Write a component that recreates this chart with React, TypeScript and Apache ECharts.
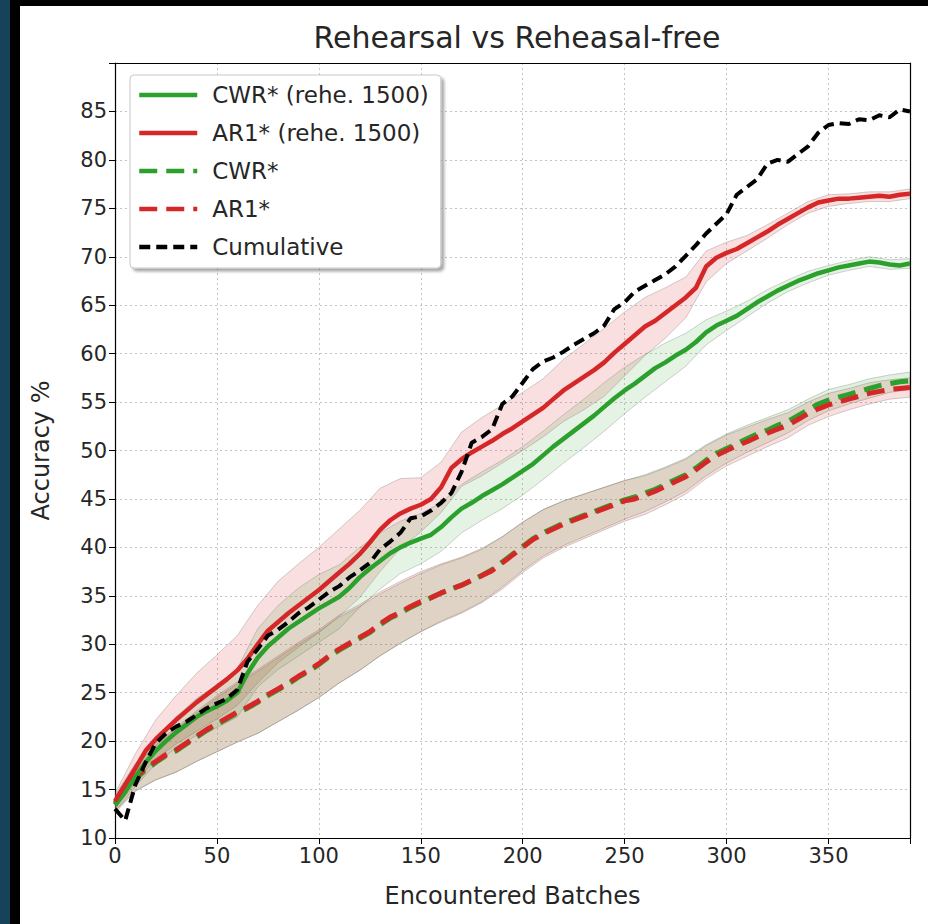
import React, { useEffect, useRef } from "react";
import * as echarts from "echarts";

// x positions (encountered batches) for the mean curves
const batches = [
  0, 5, 10, 15, 20, 25, 30, 35, 40, 45, 50, 55, 60, 65, 70, 75, 80, 85, 90, 95,
  100, 105, 110, 115, 120, 125, 130, 135, 140, 145, 150, 155, 160, 165, 170, 175, 180, 185, 190, 195,
  200, 205, 210, 215, 220, 225, 230, 235, 240, 245, 250, 255, 260, 265, 270, 275, 280, 285, 290, 295,
  300, 305, 310, 315, 320, 325, 330, 335, 340, 345, 350, 355, 360, 365, 370, 375, 380, 385, 390,
];

// x positions for the std bands
const bandBatches = [
  0, 10, 20, 30, 40, 50, 60, 70, 80, 90, 100, 110, 120, 130, 140, 150, 160, 170, 180, 190,
  200, 210, 220, 230, 240, 250, 260, 270, 280, 290, 300, 310, 320, 330, 340, 350, 360, 370, 380, 390,
];

const cwrRehe = [
  13.5, 14.8, 16.3, 17.8, 19.0, 20.0, 20.9, 21.7, 22.5, 23.1, 23.6, 24.2, 25.0, 27.0, 28.6, 29.8, 30.7, 31.6, 32.3, 33.0,
  33.7, 34.3, 34.9, 35.8, 36.9, 37.8, 38.6, 39.4, 40.0, 40.5, 40.9, 41.3, 42.1, 43.1, 44.0, 44.6, 45.3, 45.9, 46.5, 47.2,
  47.9, 48.6, 49.5, 50.4, 51.2, 52.0, 52.8, 53.6, 54.5, 55.4, 56.2, 56.9, 57.7, 58.5, 59.1, 59.8, 60.4, 61.2, 62.2, 62.9,
  63.4, 63.9, 64.6, 65.3, 65.9, 66.5, 67.0, 67.5, 67.9, 68.3, 68.6, 68.9, 69.1, 69.3, 69.5, 69.4, 69.2, 69.1, 69.3,
];

const ar1Rehe = [
  13.8, 15.5, 17.2, 19.0, 20.2, 21.2, 22.2, 23.1, 24.0, 24.8, 25.6, 26.4, 27.3, 28.5, 30.0, 31.4, 32.3, 33.2, 34.0, 34.8,
  35.6, 36.5, 37.4, 38.3, 39.3, 40.5, 41.8, 42.8, 43.5, 44.0, 44.4, 45.0, 46.2, 48.2, 49.1, 49.8, 50.4, 51.0, 51.7, 52.3,
  53.0, 53.7, 54.4, 55.3, 56.2, 56.9, 57.6, 58.3, 59.1, 60.1, 61.0, 61.9, 62.8, 63.4, 64.2, 65.0, 65.8, 66.8, 69.0, 69.9,
  70.4, 70.8, 71.4, 72.0, 72.6, 73.3, 73.9, 74.5, 75.1, 75.6, 75.8, 76.0, 76.0, 76.1, 76.2, 76.3, 76.2, 76.4, 76.5,
];

const cwr = [
  13.4, 14.8, 16.1, 17.0, 17.8, 18.5, 19.0, 19.7, 20.4, 21.1, 21.7, 22.3, 22.9, 23.4, 24.0, 24.7, 25.3, 25.9, 26.6, 27.2,
  27.9, 28.7, 29.4, 30.0, 30.6, 31.2, 32.0, 32.7, 33.2, 33.8, 34.3, 34.8, 35.3, 35.7, 36.1, 36.6, 37.1, 37.7, 38.5, 39.3,
  40.1, 40.9, 41.5, 42.0, 42.5, 42.9, 43.3, 43.7, 44.1, 44.5, 44.9, 45.2, 45.6, 46.0, 46.5, 47.0, 47.5, 48.2, 49.0, 49.7,
  50.2, 50.7, 51.2, 51.7, 52.1, 52.6, 53.0, 53.6, 54.2, 54.8, 55.2, 55.5, 55.8, 56.1, 56.4, 56.7, 56.9, 57.1, 57.2,
];

const ar1 = [
  13.6, 15.0, 16.3, 17.2, 17.9, 18.6, 19.1, 19.8, 20.5, 21.2, 21.8, 22.4, 23.0, 23.5, 24.1, 24.8, 25.4, 26.0, 26.7, 27.3,
  28.0, 28.8, 29.5, 30.1, 30.7, 31.3, 32.1, 32.8, 33.3, 33.9, 34.4, 34.8, 35.3, 35.7, 36.1, 36.6, 37.1, 37.6, 38.4, 39.2,
  40.0, 40.8, 41.4, 41.9, 42.4, 42.8, 43.2, 43.6, 44.0, 44.4, 44.8, 45.0, 45.4, 45.8, 46.3, 46.8, 47.3, 48.0, 48.8, 49.5,
  50.0, 50.5, 50.9, 51.4, 51.8, 52.2, 52.6, 53.2, 53.8, 54.3, 54.7, 55.0, 55.3, 55.6, 55.9, 56.1, 56.3, 56.4, 56.5,
];

const cumulative = [
  13.0, 11.8, 15.5, 17.8, 19.8, 20.8, 21.5, 22.0, 22.7, 23.4, 23.9, 24.4, 25.3, 28.2, 29.5, 30.9, 31.5, 32.3, 33.2, 33.8,
  34.6, 35.4, 36.0, 36.9, 37.6, 38.4, 39.8, 40.6, 41.5, 43.0, 43.2, 43.8, 44.6, 45.6, 47.8, 50.8, 51.4, 52.2, 54.8, 55.6,
  57.0, 58.4, 59.2, 59.6, 60.2, 60.9, 61.5, 62.1, 62.9, 64.6, 65.3, 66.4, 67.0, 67.6, 68.2, 69.0, 70.1, 71.2, 72.4, 73.4,
  74.4, 76.4, 77.2, 78.0, 79.6, 80.0, 79.8, 80.6, 81.4, 82.8, 83.6, 83.8, 83.7, 84.2, 84.1, 84.6, 84.4, 85.2, 85.0,
];

// half-width of the shaded bands, at bandBatches
const sdAr1Rehe = [
  0.8, 1.5, 2.0, 2.5, 3.0, 3.3, 3.6, 4.0, 4.2, 4.3, 4.4, 4.5, 4.5, 4.3, 3.6, 2.8, 2.6, 2.8, 3.0, 3.0,
  3.0, 3.0, 3.2, 3.4, 3.5, 3.3, 3.0, 2.6, 2.1, 1.6, 1.1, 0.8, 0.7, 0.6, 0.6, 0.6, 0.5, 0.5, 0.5, 0.5,
];
const sdCwrRehe = [
  0.8, 1.0, 1.3, 1.6, 1.9, 2.2, 2.5, 3.0, 3.3, 3.5, 3.5, 3.3, 3.1, 2.9, 2.7, 2.6, 2.5, 2.5, 2.5, 2.5,
  2.5, 2.5, 2.5, 2.5, 2.5, 2.4, 2.2, 2.0, 1.7, 1.3, 1.0, 0.8, 0.7, 0.6, 0.6, 0.5, 0.5, 0.5, 0.5, 0.5,
];
const sdAr1 = [
  0.8, 1.4, 1.9, 2.3, 2.6, 2.9, 3.1, 3.3, 3.4, 3.5, 3.5, 3.5, 3.4, 3.3, 3.2, 3.1, 3.0, 2.9, 2.8, 2.7,
  2.6, 2.5, 2.4, 2.3, 2.2, 2.1, 2.0, 1.9, 1.8, 1.7, 1.6, 1.5, 1.4, 1.3, 1.2, 1.2, 1.1, 1.1, 1.0, 1.0,
];
const sdCwr = [
  0.8, 1.3, 1.8, 2.2, 2.5, 2.8, 3.0, 3.2, 3.3, 3.4, 3.4, 3.4, 3.3, 3.2, 3.1, 3.0, 2.9, 2.8, 2.7, 2.6,
  2.5, 2.4, 2.3, 2.2, 2.1, 2.0, 1.9, 1.8, 1.7, 1.6, 1.5, 1.4, 1.3, 1.2, 1.1, 1.1, 1.0, 1.0, 0.9, 0.9,
];

const xTicks = [0, 50, 100, 150, 200, 250, 300, 350];
const yTicks = [10, 15, 20, 25, 30, 35, 40, 45, 50, 55, 60, 65, 70, 75, 80, 85];

const GREEN = "#2ca02c";
const RED = "#d62728";
const FONT = "DejaVu Sans";
const TXT = "#262626";

function bandSeries(id: string, mean: number[], sd: number[], fill: string, edge: string) {
  const upper = bandBatches.map((b, i) => [b, mean[i * 2] + sd[i]]);
  const lower = bandBatches.map((b, i) => [b, mean[i * 2] - sd[i]]);
  const ring = upper.concat(lower.slice().reverse());
  return {
    name: id,
    type: "custom",
    silent: true,
    z: 1,
    clip: true,
    data: [[0, 10]],
    renderItem: (_params: any, api: any) => {
      const pts = ring.map((p) => api.coord(p));
      return {
        type: "polygon",
        shape: { points: pts },
        style: { fill, stroke: edge, lineWidth: 0.8 },
      };
    },
  };
}

function lineSeries(name: string, values: number[], color: string, width: number, type: any, z: number) {
  return {
    name,
    type: "line",
    data: batches.map((b, i) => [b, values[i]]),
    symbol: "none",
    showSymbol: false,
    color,
    lineStyle: { color, width, type },
    z,
  };
}

export default function App() {
  const ref = useRef<HTMLDivElement>(null);
  useEffect(() => {
    if (!ref.current) return;
    const chart = echarts.init(ref.current, undefined, { renderer: "svg" });
    const axisCommonX = { type: "value", min: 0, max: 390, interval: 50 };
    const axisCommonY = { type: "value", min: 10, max: 90, interval: 5 };
    chart.setOption({
      animation: false,
      backgroundColor: "#ffffff",
      textStyle: { fontFamily: FONT },
      title: {
        text: "Rehearsal vs Reheasal-free",
        left: 512,
        top: 17,
        textAlign: "center",
        textStyle: { fontSize: 30, fontWeight: "normal", color: TXT, fontFamily: FONT },
      },
      graphic: [
        { type: "rect", shape: { x: 0, y: 0, width: 10, height: 924 }, style: { fill: "#16435a" }, z: 100 },
        { type: "rect", shape: { x: 10, y: 0, width: 10, height: 924 }, style: { fill: "#000000" }, z: 100 },
        { type: "rect", shape: { x: 10, y: 0, width: 918, height: 6 }, style: { fill: "#000000" }, z: 100 },
      ],
      grid: { left: 115, right: 18, top: 63, bottom: 86, containLabel: false },
      legend: {
        data: ["CWR* (rehe. 1500)", "AR1* (rehe. 1500)", "CWR*", "AR1*", "Cumulative"],
        orient: "vertical",
        left: 130,
        top: 75,
        backgroundColor: "#ffffff",
        borderColor: "#c8c8c8",
        borderWidth: 1,
        borderRadius: 4,
        shadowColor: "rgba(0,0,0,0.35)",
        shadowBlur: 3,
        shadowOffsetX: 3,
        shadowOffsetY: 3,
        padding: [8, 12, 9, 7],
        itemWidth: 58,
        itemHeight: 24,
        itemGap: 14,
        itemStyle: { opacity: 0 },
        lineStyle: { width: 4.5 },
        textStyle: { fontSize: 23, color: TXT, fontFamily: FONT, lineHeight: 24, padding: [0, 0, 0, 10] },
        selectedMode: false,
      },
      xAxis: [
        {
          ...axisCommonX,
          position: "bottom",
          name: "Encountered Batches",
          nameLocation: "middle",
          nameGap: 46,
          nameTextStyle: { fontSize: 24, color: TXT, fontFamily: FONT },
          axisLine: { show: true, onZero: false, lineStyle: { color: "#000", width: 1.2 } },
          axisTick: { show: true, length: 6, inside: false, lineStyle: { color: "#000", width: 1 } },
          axisLabel: {
            fontSize: 21,
            color: TXT,
            fontFamily: FONT,
            margin: 7,
            formatter: (v: number) => (xTicks.includes(v) ? String(v) : ""),
          },
          splitLine: { show: true, lineStyle: { type: [2, 3], color: "#c4c4c4", width: 1 } },
        },
        {
          ...axisCommonX,
          position: "top",
          axisLine: { show: true, onZero: false, lineStyle: { color: "#000", width: 1.2 } },
          axisTick: { show: false },
          axisLabel: { show: false },
          splitLine: { show: false },
        },
      ],
      yAxis: [
        {
          ...axisCommonY,
          position: "left",
          name: "Accuracy %",
          nameLocation: "middle",
          nameGap: 62,
          nameRotate: 90,
          nameTextStyle: { fontSize: 24, color: TXT, fontFamily: FONT },
          axisLine: { show: true, onZero: false, lineStyle: { color: "#000", width: 1.2 } },
          axisTick: { show: true, length: 6, inside: false, lineStyle: { color: "#000", width: 1 } },
          axisLabel: {
            fontSize: 21,
            color: TXT,
            fontFamily: FONT,
            margin: 8,
            formatter: (v: number) => (yTicks.includes(v) ? String(v) : ""),
          },
          splitLine: { show: true, lineStyle: { type: [2, 3], color: "#c4c4c4", width: 1 } },
        },
        {
          ...axisCommonY,
          position: "right",
          axisLine: { show: true, onZero: false, lineStyle: { color: "#000", width: 1.2 } },
          axisTick: { show: false },
          axisLabel: { show: false },
          splitLine: { show: false },
        },
      ],
      series: [
        bandSeries("ar1ReheBand", ar1Rehe, sdAr1Rehe, "rgba(214,39,40,0.15)", "rgba(120,110,110,0.4)"),
        bandSeries("cwrReheBand", cwrRehe, sdCwrRehe, "rgba(44,160,44,0.12)", "rgba(110,120,110,0.4)"),
        bandSeries("cwrBand", cwr, sdCwr, "rgba(44,160,44,0.15)", "rgba(110,110,100,0.4)"),
        bandSeries("ar1Band", ar1, sdAr1, "rgba(214,39,40,0.15)", "rgba(110,110,100,0.4)"),
        lineSeries("CWR*", cwr, GREEN, 5, [18, 9], 3),
        lineSeries("AR1*", ar1, RED, 5, [18, 9], 4),
        lineSeries("CWR* (rehe. 1500)", cwrRehe, GREEN, 4.5, "solid", 5),
        lineSeries("AR1* (rehe. 1500)", ar1Rehe, RED, 4.5, "solid", 6),
        lineSeries("Cumulative", cumulative, "#000000", 4, [11, 6], 7),
      ],
    });
    return () => chart.dispose();
  }, []);
  return <div ref={ref} style={{ position: "fixed", left: 0, top: 0, width: 928, height: 924 }} />;
}
